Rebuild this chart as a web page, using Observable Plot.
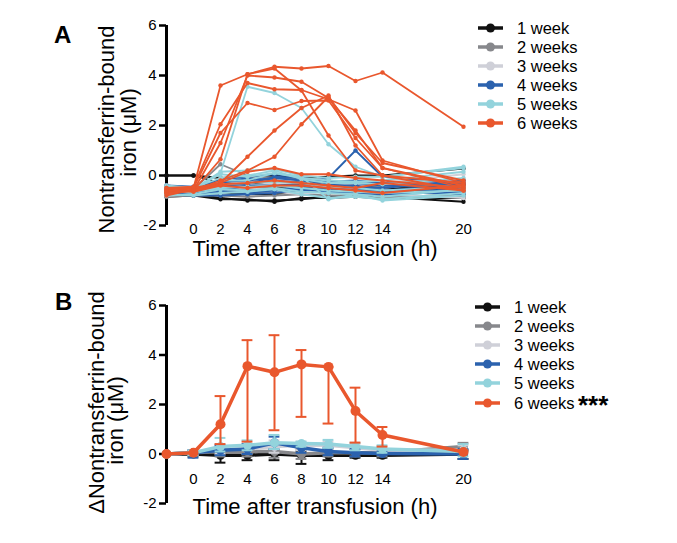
<!DOCTYPE html>
<html><head><meta charset="utf-8">
<script src="https://cdn.jsdelivr.net/npm/d3@7"></script>
<script src="https://cdn.jsdelivr.net/npm/@observablehq/plot@0.6"></script>
<style>
body{margin:0;background:#fff;font-family:"Liberation Sans",Arial,Helvetica,sans-serif;}
#root{position:relative;width:677px;height:543px;overflow:hidden;background:#fff;}
#root > svg, #root > div{position:absolute;left:0;}
</style></head><body><div id="root"></div><script>
// ---- data ----
const times = [-2, 0, 2, 4, 6, 8, 10, 12, 14, 20];
const xTickLabels = [0, 2, 4, 6, 8, 10, 12, 14, 20];
const yTickLabels = [-2, 0, 2, 4, 6];
const seriesNames = ["1 week", "2 weeks", "3 weeks", "4 weeks", "5 weeks", "6 weeks"];
const seriesColors = ["#111111", "#87888c", "#cfd0d8", "#2b62ae", "#93d3dc", "#e9572d"];

// Panel A: individual subjects, NTBI (µM) at each time point
const week1A = [
  [0, 0, -0.1, -0.05, 0.0, -0.1, -0.05, 0.0, 0.0, 0.28],
  [0, 0, -0.3, -0.3, -0.3, -0.2, -0.3, -0.4, -0.5, -0.45],
  [-0.7, -0.75, -0.9, -1.0, -1.0, -0.95, -0.85, -0.8, -0.85, -1.05],
  [-0.85, -0.8, -0.95, -0.95, -1.05, -0.9, -0.9, -0.85, -0.9, -0.9],
  [-0.6, -0.7, -0.7, -0.75, -0.75, -0.6, -0.55, -0.6, -0.65, -0.75],
  [-0.5, -0.6, -0.45, -0.5, -0.45, -0.5, -0.45, -0.5, -0.5, -0.6]
];
const week2A = [
  [-0.6, -0.55, 0.45, 0.0, -0.1, -0.1, -0.2, -0.3, -0.4, -0.5],
  [-0.75, -0.7, -0.6, -0.65, -0.7, -0.55, -0.7, -0.75, -0.8, -0.85],
  [-0.45, -0.5, -0.3, -0.25, -0.2, -0.35, -0.3, -0.35, -0.3, -0.2],
  [-0.85, -0.8, -0.8, -0.85, -0.8, -0.75, -0.8, -0.85, -0.9, -0.8],
  [-0.55, -0.6, -0.5, -0.45, -0.5, -0.6, -0.55, -0.5, -0.45, -0.35]
];
const week3A = [
  [-0.5, -0.55, -0.35, -0.4, -0.3, -0.4, -0.35, -0.4, -0.3, 0.05],
  [-0.7, -0.65, -0.7, -0.6, -0.65, -0.75, -0.6, -0.65, -0.7, -0.7],
  [-0.4, -0.5, -0.2, -0.3, -0.15, -0.2, -0.25, -0.3, -0.35, -0.3],
  [-0.8, -0.75, -0.6, -0.55, -0.6, -0.7, -0.65, -0.7, -0.75, -0.9],
  [-0.6, -0.6, -0.45, -0.5, -0.55, -0.5, -0.45, -0.55, -0.5, -0.15]
];
const week4A = [
  [-0.6, -0.7, -0.3, -0.1, -0.2, -0.3, -0.1, 1.0, -0.05, -0.3],
  [-0.5, -0.55, -0.4, -0.35, -0.05, -0.1, -0.45, -0.4, -0.6, -0.4],
  [-0.75, -0.8, -0.8, -0.75, -0.7, -0.55, -0.65, -0.7, -0.75, -0.65],
  [-0.45, -0.5, -0.15, -0.05, 0.05, -0.05, -0.35, -0.3, -0.4, -0.5],
  [-0.65, -0.7, -0.55, -0.6, -0.55, -0.6, -0.55, -0.6, -0.65, -0.55],
  [-0.55, -0.6, -0.6, -0.4, -0.4, -0.35, -0.4, -0.45, -0.5, -0.2],
  [-0.4, -0.45, -0.25, -0.2, -0.1, -0.2, -0.25, -0.2, -0.3, -0.35],
  [-0.7, -0.75, -0.65, -0.7, -0.6, -0.45, -0.5, -0.55, -0.6, -0.75]
];
const week5A = [
  [-0.7, -0.6, 0.1, 3.55, 3.3, 2.7, 1.25, 0.35, -0.05, 0.3],
  [-0.5, -0.55, 0.15, 0.2, 0.25, 0.0, -0.1, -0.05, -0.05, 0.35],
  [-0.6, -0.7, -0.2, -0.2, 0.1, -0.05, -0.95, -0.75, -1.0, -0.8],
  [-0.75, -0.8, -0.7, -0.65, -0.55, -0.75, -0.9, -0.85, -0.95, -0.7],
  [-0.45, -0.5, -0.1, 0.0, 0.2, -0.15, -0.3, -0.3, -0.35, -0.1],
  [-0.55, -0.6, -0.35, -0.3, -0.25, -0.3, -0.45, -0.5, -0.6, -0.45],
  [-0.65, -0.65, -0.5, -0.45, -0.4, -0.5, -0.6, -0.65, -0.7, -0.6],
  [-0.4, -0.5, 0.05, -0.05, 0.1, -0.1, -0.2, -0.25, -0.2, 0.15],
  [-0.8, -0.75, -0.55, -0.6, -0.5, -0.65, -0.7, -0.75, -0.85, -0.55]
];
const week6A = [
  [-0.55, -0.5, 3.6, 4.05, 4.35, 4.28, 4.38, 3.78, 4.12, 1.95],
  [-0.7, -0.6, 1.3, 4.0, 3.92, 3.75, 3.1, 1.8, 0.3, -0.4],
  [-0.5, -0.45, 2.05, 3.7, 3.45, 3.42, 3.05, 2.6, 0.6, -0.3],
  [-0.65, -0.5, 1.7, 2.9, 2.62, 2.98, 3.0, 1.5, 0.3, -0.5],
  [-0.6, -0.6, 0.65, 4.05, 4.28, 3.4, 1.6, 0.2, 0.0, -0.6],
  [-0.8, -0.55, -0.3, 0.75, 1.8, 2.7, 3.2, 1.2, 0.0, -0.3],
  [-0.7, -0.6, -0.2, 0.2, 0.75, 2.05, 3.15, 1.7, 0.5, -0.2],
  [-0.5, -0.5, -0.3, 0.15, 0.3, 0.05, 0.05, -0.1, -0.2, -0.5],
  [-0.7, -0.6, -0.35, -0.3, -0.2, -0.3, -0.4, -0.5, -0.3, -0.6],
  [-0.6, -0.65, -0.4, -0.5, -0.4, -0.4, -0.5, -0.6, -0.7, -0.4]
];

// Panel B: change from baseline (mean, lower and upper bar ends)
const week1B = [0, 0, -0.05, -0.05, 0, -0.05, -0.05, -0.05, -0.05, 0.0];
const week1Lo = [0, -0.1, -0.35, -0.25, -0.25, -0.4, -0.25, -0.15, -0.15, -0.2];
const week1Hi = [0, 0.1, 0.1, 0.1, 0.15, 0.1, 0.1, 0.05, 0.05, 0.15];
const week2B = [0, 0.05, 0.1, 0.1, 0.1, 0.0, 0.05, 0.05, 0.05, 0.3];
const week2Lo = [0, -0.05, -0.1, -0.1, -0.15, -0.2, -0.1, -0.1, -0.1, 0.1];
const week2Hi = [0, 0.15, 0.3, 0.3, 0.35, 0.2, 0.2, 0.2, 0.2, 0.45];
const week3B = [0, 0.05, 0.2, 0.2, 0.3, 0.35, 0.35, 0.25, 0.15, 0.15];
const week3Lo = [0, -0.05, 0.0, 0.0, 0.05, 0.15, 0.15, 0.05, 0.0, 0.0];
const week3Hi = [0, 0.15, 0.4, 0.4, 0.55, 0.5, 0.5, 0.4, 0.3, 0.35];
const week4B = [0, 0.05, 0.15, 0.2, 0.45, 0.25, 0.1, 0.05, 0.02, 0.0];
const week4Lo = [0, -0.15, -0.05, 0.0, 0.2, 0.05, -0.05, -0.1, -0.05, -0.2];
const week4Hi = [0, 0.15, 0.35, 0.4, 0.7, 0.45, 0.25, 0.2, 0.1, 0.2];
const week5B = [0, 0.05, 0.3, 0.35, 0.45, 0.42, 0.4, 0.3, 0.2, 0.1];
const week5Lo = [0, -0.05, 0.1, 0.15, 0.2, 0.3, 0.25, 0.15, 0.05, -0.1];
const week5Hi = [0, 0.15, 0.65, 0.55, 0.77, 0.5, 0.57, 0.45, 0.35, 0.4];
const week6B = [0, 0.05, 1.2, 3.55, 3.3, 3.62, 3.52, 1.74, 0.77, 0.08];
const week6Lo = [0, 0.05, 0.4, 0.5, 0.96, 1.5, 1.23, 0.46, 0.3, 0.08];
const week6Hi = [0, 0.05, 2.34, 4.6, 4.8, 4.2, 3.52, 2.68, 1.09, 0.08];

// ---- build tables ----
const groupsA = [week1A, week2A, week3A, week4A, week5A, week6A];
const meansB = [week1B, week2B, week3B, week4B, week5B, week6B];
const lowsB = [week1Lo, week2Lo, week3Lo, week4Lo, week5Lo, week6Lo];
const highsB = [week1Hi, week2Hi, week3Hi, week4Hi, week5Hi, week6Hi];

const rowsA = [];
groupsA.forEach((g, gi) => g.forEach((vals, si) => vals.forEach((v, ti) =>
  rowsA.push({t: times[ti], v, g: gi, id: gi + "-" + si}))));
const rowsB = [];
meansB.forEach((m, gi) => m.forEach((v, ti) =>
  rowsB.push({t: times[ti], v, lo: lowsB[gi][ti], hi: highsB[gi][ti], g: gi})));

const FONT = '"Liberation Sans", Arial, Helvetica, sans-serif';
const W = 677;
const capHalf = 0.4;

function commonMarks(xTickDy, titleDy, yLines) {
  return [
    Plot.ruleX([-2], {y1: -2, y2: 6, stroke: "#000", strokeWidth: 3}),
    Plot.axisY({ticks: yTickLabels, tickSize: 7, tickPadding: 3, tickFormat: d => String(d),
      label: null, fontSize: 15, strokeWidth: 2.5, stroke: "#000", color: "#000"}),
    Plot.text(xTickLabels, {x: d => d, text: d => String(d), frameAnchor: "bottom",
      lineAnchor: "bottom", dy: xTickDy, fontSize: 15, fill: "#000"}),
    Plot.text(["Time after transfusion (h)"], {frameAnchor: "bottom", lineAnchor: "bottom",
      textAnchor: "middle", dy: titleDy, fontSize: 22, fill: "#000"}),
    ...yLines.map(l => Plot.text([l.text], {frameAnchor: "left", rotate: -90, lineAnchor: "bottom",
      textAnchor: "middle", dx: l.dx, dy: l.dy, fontSize: 22, fill: "#000"}))
  ];
}

// Panel A
const marksA = [];
groupsA.forEach((g, gi) => {
  const d = rowsA.filter(r => r.g === gi);
  marksA.push(Plot.line(d, {x: "t", y: "v", z: "id", stroke: seriesColors[gi], strokeWidth: 1.8}));
  marksA.push(Plot.dot(d, {x: "t", y: "v", r: 2.2, fill: seriesColors[gi], stroke: "none"}));
});
const plotA = Plot.plot({
  width: W, height: 270, marginLeft: 166, marginRight: 214, marginTop: 25, marginBottom: 45,
  x: {domain: [-2, 20], axis: null},
  y: {domain: [-2, 6]},
  style: {fontFamily: FONT, background: "transparent", color: "#000"},
  marks: [
    ...commonMarks(8, 30, [
      {text: "Nontransferrin-bound", dx: -53, dy: 4},
      {text: "iron (\u03bcM)", dx: -31, dy: 7}
    ]),
    ...marksA
  ]
});
plotA.style.top = "0px";

// Panel B
const marksB = [];
meansB.forEach((m, gi) => {
  const d = rowsB.filter(r => r.g === gi);
  const e = d.filter(r => r.hi !== r.lo);
  const c = seriesColors[gi];
  marksB.push(Plot.ruleX(e, {x: "t", y1: "lo", y2: "hi", stroke: c, strokeWidth: 2}));
  marksB.push(Plot.ruleY(e, {y: "hi", x1: r => r.t - capHalf, x2: r => r.t + capHalf, stroke: c, strokeWidth: 2}));
  marksB.push(Plot.ruleY(e, {y: "lo", x1: r => r.t - capHalf, x2: r => r.t + capHalf, stroke: c, strokeWidth: 2}));
  marksB.push(Plot.line(d, {x: "t", y: "v", stroke: c, strokeWidth: 3.5}));
  marksB.push(Plot.dot(d, {x: "t", y: "v", r: gi === 5 ? 5 : 4.5, fill: c, stroke: "none"}));
});
const plotB = Plot.plot({
  width: W, height: 273, marginLeft: 166, marginRight: 214, marginTop: 35, marginBottom: 40,
  x: {domain: [-2, 20], axis: null},
  y: {domain: [-2, 6]},
  style: {fontFamily: FONT, background: "transparent", color: "#000"},
  marks: [
    ...commonMarks(-20, 10, [
      {text: "\u0394Nontransferrin-bound", dx: -63, dy: -2},
      {text: "iron (\u03bcM)", dx: -44, dy: 16}
    ]),
    ...marksB
  ]
});
plotB.style.top = "270px";

const root = document.getElementById("root");
root.appendChild(plotA);
root.appendChild(plotB);

// Overlay: panel letters and legends
const ns = "http://www.w3.org/2000/svg";
const ov = document.createElementNS(ns, "svg");
ov.setAttribute("width", W); ov.setAttribute("height", 543);
ov.style.position = "absolute"; ov.style.left = "0px"; ov.style.top = "0px";
ov.style.fontFamily = FONT;
function el(tag, attrs, text) {
  const e = document.createElementNS(ns, tag);
  for (const k in attrs) e.setAttribute(k, attrs[k]);
  if (text != null) e.textContent = text;
  ov.appendChild(e);
  return e;
}
el("text", {x: 54, y: 43, "font-size": 24, "font-weight": "bold"}, "A");
el("text", {x: 55, y: 310, "font-size": 24, "font-weight": "bold"}, "B");
function legend(x0, x1, tx, ys) {
  seriesNames.forEach((n, i) => {
    const y = ys[i];
    el("line", {x1: x0, x2: x1, y1: y, y2: y, stroke: seriesColors[i], "stroke-width": 3.5});
    el("circle", {cx: (x0 + x1) / 2, cy: y, r: 4.5, fill: seriesColors[i]});
    el("text", {x: tx, y: y, "font-size": 16.5, "dominant-baseline": "central"}, n);
  });
}
legend(478, 503, 517, [28, 47, 66, 85, 104, 123]);
legend(475, 500, 514, [307, 326, 345, 364, 383, 403]);
el("text", {x: 578, y: 414, "font-size": 26, "font-weight": "bold"}, "***");
root.appendChild(ov);
</script></body></html>
